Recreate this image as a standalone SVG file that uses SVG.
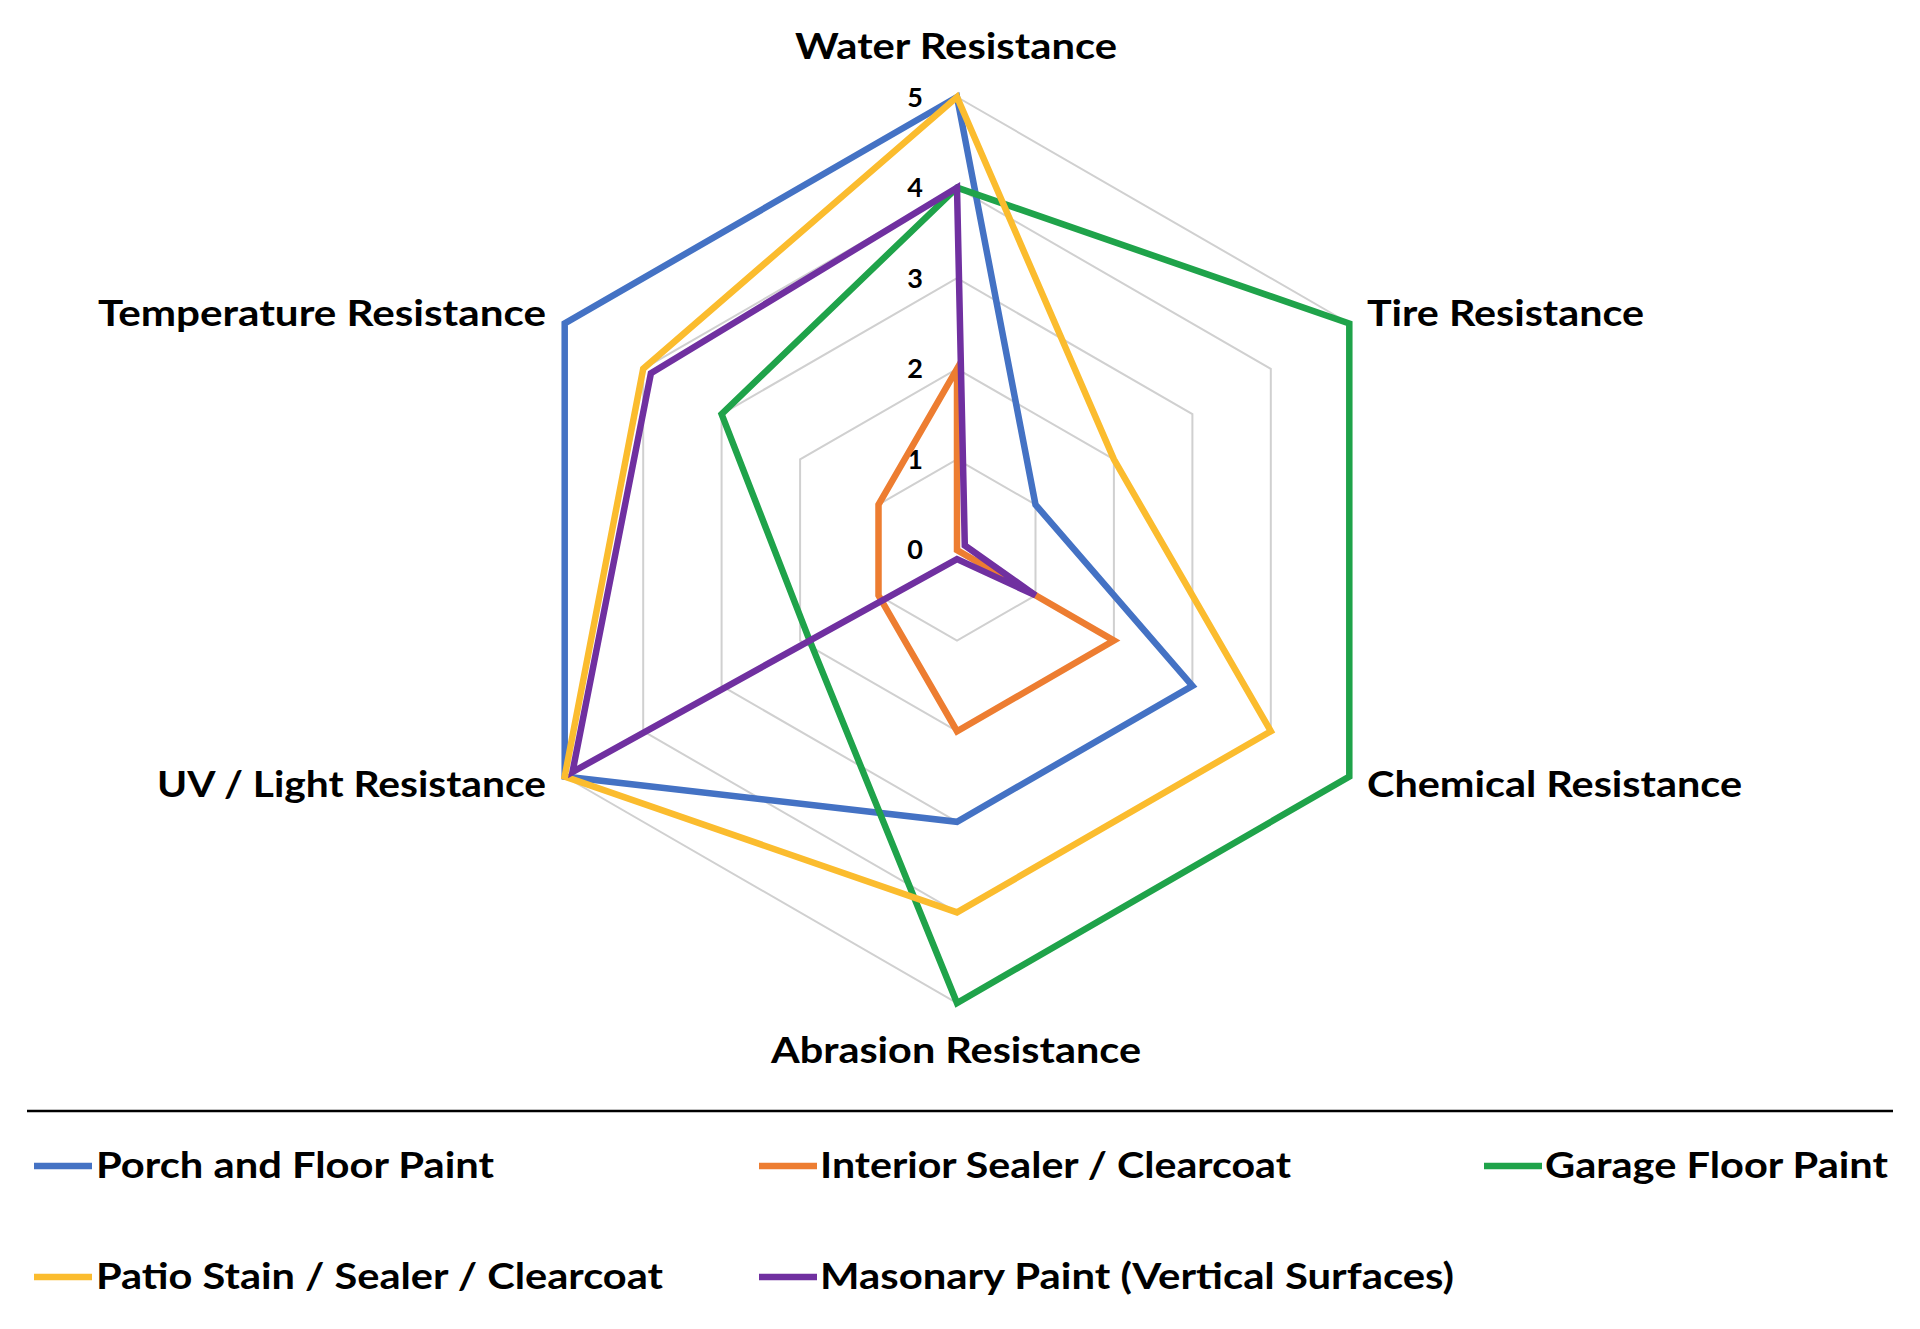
<svg xmlns="http://www.w3.org/2000/svg" width="1920" height="1329" viewBox="0 0 1920 1329">
<style>
.grid{fill:none;stroke:#d0d0d0;stroke-width:2}
.s{fill:none;stroke-width:6.5;stroke-linejoin:miter}
.lab{font-family:Lato,"Open Sans","Liberation Sans",sans-serif;font-weight:bold;font-size:37px;fill:#000}
.tick{font-family:Lato,"Liberation Sans",sans-serif;font-weight:bold;font-size:27px;fill:#000}
</style>
<rect width="1920" height="1329" fill="#fff"/>
<g id="grid">
<polygon class="grid" points="957,459.4 1035.5,504.7 1035.5,595.3 957,640.6 878.5,595.3 878.5,504.7"/>
<polygon class="grid" points="957,368.8 1113.9,459.4 1113.9,640.6 957,731.2 800.1,640.6 800.1,459.4"/>
<polygon class="grid" points="957,278.2 1192.4,414.1 1192.4,685.9 957,821.8 721.6,685.9 721.6,414.1"/>
<polygon class="grid" points="957,187.6 1270.8,368.8 1270.8,731.2 957,912.4 643.2,731.2 643.2,368.8"/>
<polygon class="grid" points="957,97 1349.3,323.5 1349.3,776.5 957,1003 564.7,776.5 564.7,323.5"/>
</g>
<g id="ticks" class="tick" text-anchor="middle">
<text x="915" y="559">0</text>
<text x="915" y="469">1</text>
<text x="915" y="378">2</text>
<text x="915" y="288">3</text>
<text x="915" y="197">4</text>
<text x="915" y="107">5</text>
</g>
<g id="series">
<polygon id="porch" class="s" stroke="#4472C4" points="957,97 1035.5,504.7 1192.4,685.9 957,821.8 564.7,776.5 564.7,323.5"/>
<polygon id="interior" class="s" stroke="#ED7D31" points="957,368.8 957,550 1113.9,640.6 957,731.2 878.5,595.3 878.5,504.7"/>
<polygon id="garage" class="s" stroke="#1FA34A" points="957,187.6 1349.3,323.5 1349.3,776.5 957,1003 807.9,636.1 721.6,414.1"/>
<polygon id="patio" class="s" stroke="#FBBC2E" points="957,97 1113.9,459.4 1270.8,731.2 957,912.4 564.7,776.5 643.2,368.8"/>
<polygon id="masonary" class="s" stroke="#7030A0" points="957,187.6 964.8,545.5 1035.5,595.3 957,559.1 572.5,772 650.9,373.3"/>
</g>
<g id="axis-labels" class="lab">
<text x="956" y="59" text-anchor="middle" textLength="322" lengthAdjust="spacingAndGlyphs">Water Resistance</text>
<text x="1367" y="326" textLength="277" lengthAdjust="spacingAndGlyphs">Tire Resistance</text>
<text x="1367" y="797" textLength="375" lengthAdjust="spacingAndGlyphs">Chemical Resistance</text>
<text x="956" y="1063" text-anchor="middle" textLength="370" lengthAdjust="spacingAndGlyphs">Abrasion Resistance</text>
<text x="546" y="797" text-anchor="end" textLength="389" lengthAdjust="spacingAndGlyphs">UV / Light Resistance</text>
<text x="546" y="326" text-anchor="end" textLength="448" lengthAdjust="spacingAndGlyphs">Temperature Resistance</text>
</g>
<line x1="27" y1="1111" x2="1893" y2="1111" stroke="#000" stroke-width="2.5"/>
<g id="legend" class="lab">
<line x1="34" y1="1166" x2="92" y2="1166" stroke="#4472C4" stroke-width="6.5"/>
<text x="96" y="1178" textLength="398" lengthAdjust="spacingAndGlyphs">Porch and Floor Paint</text>
<line x1="759" y1="1166" x2="817" y2="1166" stroke="#ED7D31" stroke-width="6.5"/>
<text x="820" y="1178" textLength="471" lengthAdjust="spacingAndGlyphs">Interior Sealer / Clearcoat</text>
<line x1="1484" y1="1166" x2="1542" y2="1166" stroke="#1FA34A" stroke-width="6.5"/>
<text x="1545" y="1178" textLength="343" lengthAdjust="spacingAndGlyphs">Garage Floor Paint</text>
<line x1="34" y1="1277" x2="92" y2="1277" stroke="#FBBC2E" stroke-width="6.5"/>
<text x="96" y="1289" textLength="567" lengthAdjust="spacingAndGlyphs">Patio Stain / Sealer / Clearcoat</text>
<line x1="759" y1="1277" x2="817" y2="1277" stroke="#7030A0" stroke-width="6.5"/>
<text x="820" y="1289" textLength="634" lengthAdjust="spacingAndGlyphs">Masonary Paint (Vertical Surfaces)</text>
</g>
</svg>
